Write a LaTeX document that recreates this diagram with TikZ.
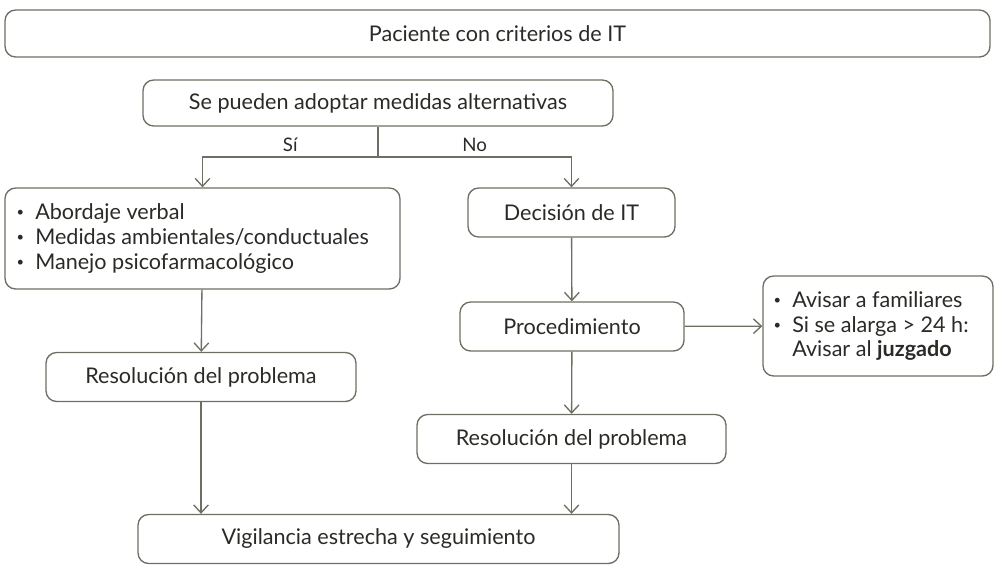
\documentclass[tikz,border=0pt]{standalone}
\usepackage{fontspec}
\setmainfont{Lato}
\usetikzlibrary{arrows.meta}
\definecolor{linegray}{HTML}{6E6E64}
\definecolor{textgray}{HTML}{2A2A26}
\newcommand{\blt}{\raisebox{0.25ex}{\scalebox{0.6}{\textbullet}}\ \ }

\begin{document}
\begin{tikzpicture}
[x=0.75pt, y=-0.75pt,
 every node/.style={text=textgray, font=\fontsize{16.2}{18.6}\selectfont},
 box/.style={draw=linegray, line width=1pt, rounded corners=8pt, inner sep=0pt},
 arr/.style={draw=linegray, line width=1pt, -{Straight Barb[length=6pt, width=11pt]}}]
\useasboundingbox (0,0) rectangle (1000,569);
\node (top) [box, minimum width=985pt*0.75, minimum height=47pt*0.75] at (497.5,33.5) {Paciente con criterios de IT};
\node (alt) [box, minimum width=470pt*0.75, minimum height=46pt*0.75] at (378,103) {Se pueden adoptar medidas alternativas};
\node (med) [box, minimum width=395pt*0.75, minimum height=101pt*0.75] at (202.5,238.5) {};
\node [anchor=west, align=left] at (12,238.5) {\blt Abordaje verbal\\\blt Medidas ambientales/conductuales\\\blt Manejo psicofarmacológico};
\node (dec) [box, minimum width=207pt*0.75, minimum height=49pt*0.75] at (571.5,212.5) {Decisión de IT};
\node (proc) [box, minimum width=224pt*0.75, minimum height=49pt*0.75] at (572,326.5) {Procedimiento};
\node (avis) [box, minimum width=230pt*0.75, minimum height=100pt*0.75] at (878,326) {};
\node [anchor=west, align=left] at (769,326) {\blt Avisar a familiares\\\blt Si se alarga > 24 h:\\\phantom{\blt}Avisar al \textbf{juzgado}};
\node (resl) [box, minimum width=310pt*0.75, minimum height=49pt*0.75] at (201,377) {Resolución del problema};
\node (resr) [box, minimum width=309pt*0.75, minimum height=49pt*0.75] at (571.5,439) {Resolución del problema};
\node (vig) [box, minimum width=481pt*0.75, minimum height=49pt*0.75] at (378.5,539) {Vigilancia estrecha y seguimiento};
\coordinate (split) at (378,157);
\draw [draw=linegray, line width=1pt] (alt.south) -- (split);
\draw [arr] (split) -| (med.north) node [pos=0.25, above, font=\fontsize{14}{16}\selectfont] {Sí};
\draw [arr] (split) -| (dec.north) node [pos=0.25, above, font=\fontsize{14}{16}\selectfont] {No};
\draw [arr] (med) -- (resl);
\draw [arr] (resl.south) -- (resl.south |- vig.north);
\draw [arr] (dec) -- (proc);
\draw [arr] (proc) -- (resr);
\draw [arr] (resr.south) -- (resr.south |- vig.north);
\draw [arr] (proc) -- (avis);
\end{tikzpicture}
\end{document}
